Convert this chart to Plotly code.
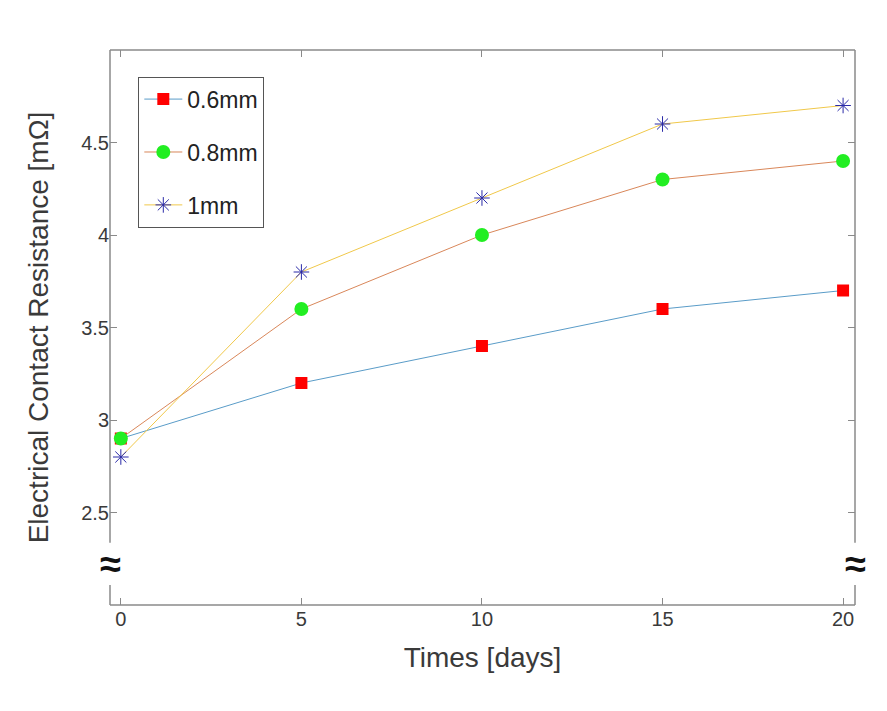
import plotly.graph_objects as go

days = [0, 5, 10, 15, 20]
r06 = [2.9, 3.2, 3.4, 3.6, 3.7]
r08 = [2.9, 3.6, 4.0, 4.3, 4.4]
r10 = [2.8, 3.8, 4.2, 4.6, 4.7]
names = ["0.6mm", "0.8mm", "1mm"]
yticks = [2.5, 3, 3.5, 4, 4.5]
xticks = [0, 5, 10, 15, 20]

fig = go.Figure()
fig.add_trace(go.Scatter(x=days, y=r06, name=names[0], mode="lines+markers", legendgroup="a",
                         line=dict(color="#5a9cc8", width=1),
                         marker=dict(symbol="square", size=12, color="#ff0000")))
fig.add_trace(go.Scatter(x=days, y=r08, name=names[1], mode="lines+markers", legendgroup="b",
                         line=dict(color="#d9875a", width=1),
                         marker=dict(symbol="circle", size=14, color="#22ee22")))
fig.add_trace(go.Scatter(x=days, y=r10, name=names[2], mode="lines+markers", legendgroup="c",
                         line=dict(color="#f0c84a", width=1),
                         marker=dict(symbol="asterisk-open", size=13, color="#2a2aa8",
                                     line=dict(color="#2a2aa8", width=1))))

axcol = "#8a8a8a"
txt = "#3a3a3a"
fig.update_layout(
    width=887, height=711,
    paper_bgcolor="white", plot_bgcolor="white",
    margin=dict(l=102, r=40, t=42, b=114),
    font=dict(family="Liberation Sans, Arial, sans-serif", color=txt),
    xaxis=dict(range=[-0.3, 20.33], tickvals=xticks, ticks="inside", ticklen=7,
               tickcolor=axcol, showgrid=False, zeroline=False, showline=False,
               tickfont=dict(size=20, color=txt),
               title=dict(text="Times [days]", font=dict(size=28, color=txt), standoff=18)),
    yaxis=dict(range=[2.0, 5.0], tickvals=yticks, ticktext=["2.5", "3", "3.5", "4", "4.5"],
               ticks="inside", ticklen=7, tickcolor=axcol, showgrid=False, zeroline=False,
               showline=False, tickfont=dict(size=20, color=txt),
               title=dict(text="Electrical Contact Resistance [mΩ]", font=dict(size=28, color=txt),
                          standoff=24)),
    xaxis2=dict(range=[-0.3, 20.33], tickvals=xticks, ticks="inside", ticklen=7, tickcolor=axcol,
                showticklabels=False, overlaying="x", side="top", showgrid=False, zeroline=False,
                showline=False),
    yaxis2=dict(range=[2.0, 5.0], tickvals=yticks, ticks="inside", ticklen=7, tickcolor=axcol,
                showticklabels=False, overlaying="y", side="right", showgrid=False, zeroline=False,
                showline=False),
    legend=dict(x=0.038, y=0.952, xanchor="left", yanchor="top", bgcolor="white",
                bordercolor="#555555", borderwidth=1, tracegroupgap=20,
                font=dict(size=23, color="#222222"), itemwidth=38),
    showlegend=True,
)
# invisible trace to activate the mirrored axes
fig.add_trace(go.Scatter(x=[days[0]], y=[r06[0]], xaxis="x2", yaxis="y2", mode="markers",
                         marker=dict(opacity=0), showlegend=False, hoverinfo="skip"))

# frame with axis breaks
gap_lo, gap_hi = 0.036, 0.112
lw = 1.5
frame = [
    (0, 0, 1, 0), (0, 1, 1, 1),
    (0, 0, 0, gap_lo), (0, gap_hi, 0, 1),
    (1, 0, 1, gap_lo), (1, gap_hi, 1, 1),
]
for x0, y0, x1, y1 in frame:
    fig.add_shape(type="line", xref="x domain", yref="y domain", x0=x0, y0=y0, x1=x1, y1=y1,
                  line=dict(color=axcol, width=lw))
for xd in [0, 1]:
    fig.add_annotation(xref="x domain", yref="y domain", x=xd, y=(gap_lo + gap_hi) / 2,
                       text="<b>≈</b>", showarrow=False, font=dict(size=38, color="#111111"),
                       xanchor="center", yanchor="middle")

fig.write_html("out.html")
